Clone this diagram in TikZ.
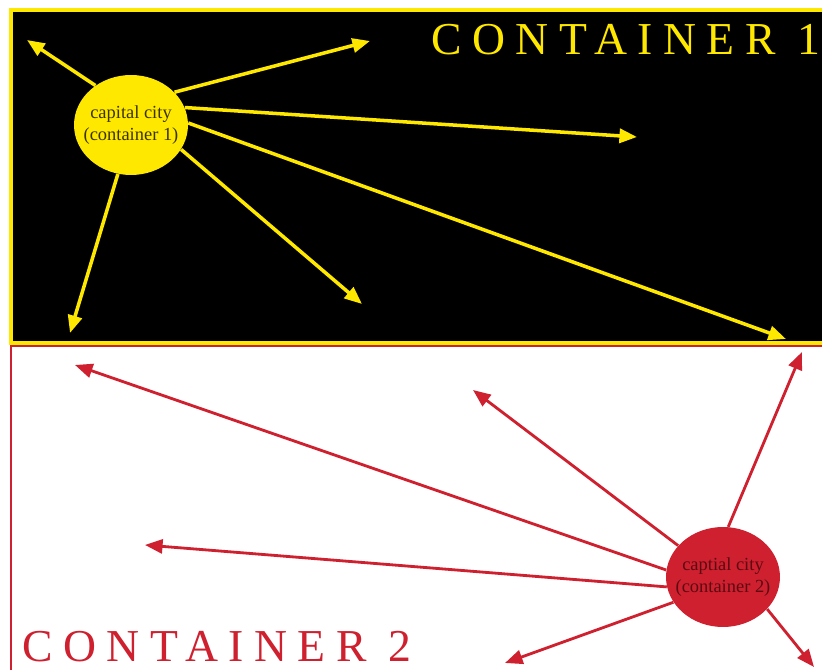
\documentclass[tikz,border=0pt]{standalone}
\usepackage{fontspec}
\setmainfont{Liberation Serif}
\usetikzlibrary{arrows.meta,shapes.geometric}
\definecolor{cyellow}{RGB}{255,232,0}
\definecolor{cred}{RGB}{206,32,46}
\definecolor{cdark}{RGB}{60,52,0}
\definecolor{cdarkred}{RGB}{92,10,18}
\begin{document}
\begin{tikzpicture}[
    yarrow/.style={draw=cyellow,line width=2pt,-{Triangle[length=10pt,width=8pt]}},
    rarrow/.style={draw=cred,line width=1.6pt,-{Triangle[length=10pt,width=8pt]}},
    city/.style={ellipse,inner sep=0pt,minimum width=2.28cm,minimum height=2cm},
    citytext/.style={align=center,inner sep=0pt,font=\fontsize{10.5}{12.5}\selectfont},
    title/.style={inner sep=0pt,anchor=base west,
      font=\fontsize{26}{30}\selectfont\addfontfeature{LetterSpace=23}}
  ]
    \def\x{0.02}
    \def\y{-0.02}
    \useasboundingbox (0,0) rectangle (822*\x,670*\y);
    \clip (0,0) rectangle (822*\x,670*\y);
    \draw[fill=black,draw=cyellow,line width=1.8pt] (11*\x,10*\y) rectangle (840*\x,343*\y);
    \draw[fill=white,draw=cred,line width=1.6pt] (11*\x,346*\y) rectangle (840*\x,690*\y);
    \node[title,text=cyellow] (T1) at (431*\x,55*\y) {CONTAINER 1};
    \node[title,text=cred] (T2) at (22*\x,662*\y) {CONTAINER 2};
    \node[city,fill=cyellow] (C1_0) at (131*\x,125*\y) {};
    \node[citytext,text=cdark] at (C1_0) {capital city\\(container 1)};
    \node[city,fill=cred] (C2_0) at (723*\x,577*\y) {};
    \node[citytext,text=cdarkred] at (C2_0) {captial city\\(container 2)};
    \coordinate (C1_1) at (27*\x,40*\y);
    \coordinate (C1_2) at (370*\x,41*\y);
    \coordinate (C1_3) at (637*\x,137*\y);
    \coordinate (C1_4) at (786*\x,339*\y);
    \coordinate (C1_5) at (362*\x,304*\y);
    \coordinate (C1_6) at (70*\x,333*\y);
    \coordinate (C2_1) at (473*\x,390*\y);
    \coordinate (C2_2) at (75*\x,365*\y);
    \coordinate (C2_3) at (145*\x,545*\y);
    \coordinate (C2_4) at (505*\x,663*\y);
    \coordinate (C2_5) at (814*\x,667*\y);
    \coordinate (C2_6) at (802*\x,352*\y);
    \path (C1_0.132) edge [yarrow] (C1_1);
    \path (C1_0.37) edge [yarrow] (C1_2);
    \path (C1_0.18) edge [yarrow] (C1_3);
    \path (C1_0.2) edge [yarrow] (C1_4);
    \path (C1_0.-26) edge [yarrow] (C1_5);
    \path (C1_0.-105) edge [yarrow] (C1_6);
    \path (C2_0.145) edge [rarrow] (C2_1);
    \path (C2_0.173) edge [rarrow] (C2_2);
    \path (C2_0.190) edge [rarrow] (C2_3);
    \path (C2_0.207) edge [rarrow] (C2_4);
    \path (C2_0.-36) edge [rarrow] (C2_5);
    \path (C2_0.84) edge [rarrow] (C2_6);
  \end{tikzpicture}
\end{document}
